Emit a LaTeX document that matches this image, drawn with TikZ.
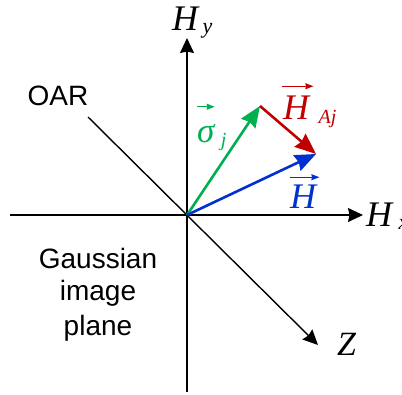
\documentclass[tikz,border=0pt]{standalone}
\usepackage{fontspec}
\setmainfont{Liberation Serif}
\setsansfont{Liberation Sans}
\usetikzlibrary{arrows.meta}
\definecolor{vgreen}{HTML}{00B050}
\definecolor{vred}{HTML}{C00000}
\definecolor{vblue}{HTML}{0030D0}
\begin{document}
\begin{tikzpicture}[x=1pt,y=-1pt,
  axis/.style={line width=1.4pt,-{Stealth[length=15pt,width=14pt,inset=1.5pt]}},
  vecline/.style={line width=2.6pt,-{Stealth[length=21pt,width=17pt,inset=2pt]}},
  accent/.style={line width=1pt,-{Stealth[length=8pt,width=6pt,inset=0.5pt]}},
  big/.style={inner sep=0pt,anchor=base west,font=\fontsize{36}{36}\selectfont\itshape},
  sub/.style={inner sep=0pt,anchor=base west,font=\fontsize{20}{20}\selectfont\itshape},
  lbl/.style={inner sep=0pt,anchor=base,font=\fontsize{28}{28}\selectfont\sffamily}]
\useasboundingbox (0,0) rectangle (402,394);
\coordinate (O) at (187,215);
\coordinate (ybot) at (187,392);
\coordinate (ytop) at (187,38);
\coordinate (xl) at (10,215);
\coordinate (xr) at (363,215);
\coordinate (oar) at (88,117);
\coordinate (ztip) at (318,345);
\coordinate (S) at (260,106);
\coordinate (T) at (316,154);
% axes
\draw[axis] (ybot) -- (ytop);
\draw[axis] (xl) -- (xr);
\draw[axis] (oar) -- (ztip);
% vectors
\draw[vecline,vgreen] (O) -- (S);
\draw[vecline,vblue] (O) -- (T);
\draw[vecline,vred] (S) -- (T);
% axis labels
\node[big] (hy) at (172,30) {H};
\node[sub,font=\fontsize{22}{22}\selectfont\itshape] (hysub) at ([xshift=4pt,yshift=-3pt]hy.base east) {y};
\node[big] (hx) at (366,226) {H};
\node[sub,font=\fontsize{22}{22}\selectfont\itshape] (hxsub) at ([xshift=6pt,yshift=-3pt]hx.base east) {x};
\node[big,font=\fontsize{34}{34}\selectfont\itshape] (z) at (337,355) {Z};
% vector labels
\node[big,font=\fontsize{35}{35}\selectfont\itshape,text=vgreen] (sig) at (197,142) {σ};
\node[sub,text=vgreen] (sigsub) at ([xshift=6pt,yshift=-4pt]sig.base east) {j};
\draw[accent,vgreen] ([yshift=17pt]sig.north west) -- ([yshift=17pt]sig.north east);
\node[big,text=vred] (ha) at (283,119) {H};
\node[sub,text=vred] (hasub) at ([xshift=9pt,yshift=-4pt]ha.base east) {Aj};
\draw[accent,vred] ([yshift=9pt,xshift=-1pt]ha.north west) -- ([yshift=9pt,xshift=4pt]ha.north east);
\node[big,text=vblue] (hb) at (290,208) {H};
\draw[accent,vblue] ([yshift=7pt]hb.north west) -- ([yshift=7pt,xshift=3pt]hb.north east);
% text labels
\node[lbl] (oartxt) at (58,105) {OAR};
\node[lbl] (g1) at (98,268) {Gaussian};
\node[lbl] (g2) at (98,300) {image};
\node[lbl] (g3) at (98,335) {plane};
\end{tikzpicture}
\end{document}
